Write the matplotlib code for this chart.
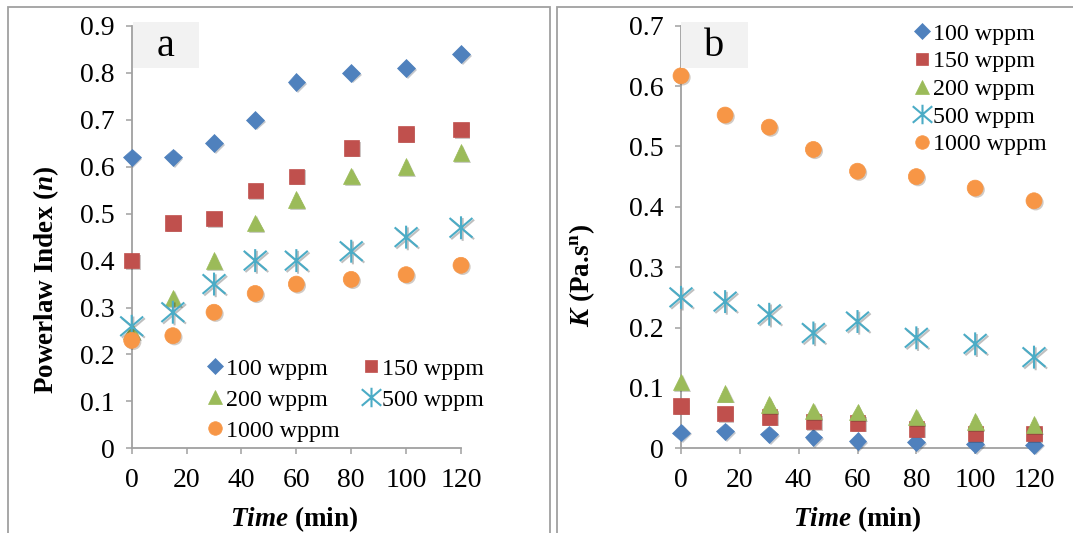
import matplotlib
matplotlib.use("Agg")
import matplotlib.pyplot as plt
import matplotlib.patheffects as pe
from matplotlib.path import Path
from matplotlib.patches import Rectangle

# data
time_min = [0, 15, 30, 45, 60, 80, 100, 120]
series_labels = ["100 wppm", "150 wppm", "200 wppm", "500 wppm", "1000 wppm"]

n_100 = [0.62, 0.62, 0.65, 0.70, 0.78, 0.80, 0.81, 0.84]
n_150 = [0.40, 0.48, 0.49, 0.55, 0.58, 0.64, 0.67, 0.68]
n_200 = [0.25, 0.32, 0.40, 0.48, 0.53, 0.58, 0.60, 0.63]
n_500 = [0.26, 0.29, 0.35, 0.40, 0.40, 0.42, 0.45, 0.47]
n_1000 = [0.23, 0.24, 0.29, 0.33, 0.35, 0.36, 0.37, 0.39]

k_100 = [0.026, 0.028, 0.023, 0.018, 0.012, 0.010, 0.007, 0.006]
k_150 = [0.070, 0.058, 0.052, 0.044, 0.042, 0.032, 0.025, 0.024]
k_200 = [0.110, 0.091, 0.072, 0.062, 0.060, 0.052, 0.044, 0.039]
k_500 = [0.250, 0.243, 0.222, 0.191, 0.210, 0.183, 0.173, 0.151]
k_1000 = [0.617, 0.552, 0.532, 0.495, 0.459, 0.450, 0.431, 0.410]

n_ticks = [0, 0.1, 0.2, 0.3, 0.4, 0.5, 0.6, 0.7, 0.8, 0.9]
k_ticks = [0, 0.1, 0.2, 0.3, 0.4, 0.5, 0.6, 0.7]
time_ticks = [0, 20, 40, 60, 80, 100, 120]

colors = ["#4F81BD", "#C0504D", "#9BBB59", "#4BACC6", "#F79646"]

# excel style star: vertical bar plus an X
star = Path(
    [(0, -1), (0, 1), (-1, -0.85), (1, 0.85), (-1, 0.85), (1, -0.85)],
    [Path.MOVETO, Path.LINETO, Path.MOVETO, Path.LINETO, Path.MOVETO, Path.LINETO],
)
markers = ["D", "s", "^", star, "o"]
msizes = [9, 11, 12, 16.5, 11.5]

plt.rcParams["font.family"] = ["Liberation Serif", "DejaVu Serif"]
plt.rcParams["mathtext.fontset"] = "custom"
plt.rcParams["mathtext.rm"] = "Liberation Serif"
plt.rcParams["mathtext.it"] = "Liberation Serif:italic:bold"
plt.rcParams["mathtext.bf"] = "Liberation Serif:bold"

W, H = 1073, 533
fig = plt.figure(figsize=(W / 100, H / 100), dpi=100)


def px_box(x0, y0, x1, y1):
    return [x0 / W, 1 - y1 / H, (x1 - x0) / W, (y1 - y0) / H]


axis_gray = "#A0A0A0"

# panel frames
fig.patches.append(Rectangle((8 / W, -0.1), (550 - 8) / W, 1 - 7 / H + 0.1,
                             transform=fig.transFigure, fill=False,
                             edgecolor=axis_gray, linewidth=1.3))
fig.patches.append(Rectangle((557 / W, -0.1), 0.6, 1 - 7 / H + 0.1,
                             transform=fig.transFigure, fill=False,
                             edgecolor=axis_gray, linewidth=1.3))

ax1 = fig.add_axes(px_box(131.7, 26, 461, 448.3))
ax2 = fig.add_axes(px_box(681, 25.7, 1034, 448.3))


def draw_series(ax, ys):
    handles = []
    for y, m, s, c, lab in zip(ys, markers, msizes, colors, series_labels):
        if m is star:
            h, = ax.plot(time_min, y, linestyle="none", marker=m, markersize=s,
                         markeredgecolor=c, markeredgewidth=1.5, label=lab,
                         clip_on=False, zorder=3)
            h.set_path_effects([pe.SimpleLineShadow(offset=(1.2, -1.2), alpha=0.25),
                                pe.Normal()])
        else:
            h, = ax.plot(time_min, y, linestyle="none", marker=m, markersize=s,
                         markerfacecolor=c, markeredgecolor=c, markeredgewidth=0.5,
                         label=lab, clip_on=False, zorder=3)
            h.set_path_effects([pe.SimplePatchShadow(offset=(1.2, -1.2), alpha=0.25),
                                pe.Normal()])
        handles.append(h)
    return handles


def style_axes(ax, yticks, ymax):
    ax.set_xlim(0, 120)
    ax.set_ylim(0, ymax)
    ax.set_xticks(time_ticks)
    ax.set_yticks(yticks)
    ax.set_yticklabels([f"{t:g}" for t in yticks])
    for side in ["top", "right"]:
        ax.spines[side].set_visible(False)
    for side in ["left", "bottom"]:
        ax.spines[side].set_color(axis_gray)
        ax.spines[side].set_linewidth(1.3)
    ax.tick_params(axis="both", direction="out", length=4.5, width=1.1,
                   color=axis_gray, labelsize=20, labelcolor="black")
    ax.tick_params(axis="y", pad=8)
    ax.tick_params(axis="x", pad=10)
    ax.patch.set_alpha(0)


h1 = draw_series(ax1, [n_100, n_150, n_200, n_500, n_1000])
h2 = draw_series(ax2, [k_100, k_150, k_200, k_500, k_1000])
style_axes(ax1, n_ticks, 0.9)
style_axes(ax2, k_ticks, 0.7)

# legends
order = [0, 2, 4, 1, 3]
leg1 = ax1.legend([h1[i] for i in order], [series_labels[i] for i in order],
                  ncol=2, loc="upper left",
                  bbox_to_anchor=(207 / W, 1 - 358 / H), bbox_transform=fig.transFigure,
                  frameon=False, fontsize=17.3, handlelength=0.7, handletextpad=0.1,
                  columnspacing=0.95, labelspacing=0.38, borderpad=0, borderaxespad=0,
                  markerscale=0.85)
leg2 = ax2.legend(h2, series_labels, loc="upper left",
                  bbox_to_anchor=(914 / W, 1 - 23 / H), bbox_transform=fig.transFigure,
                  frameon=False, fontsize=17.3, handlelength=0.7, handletextpad=0.1,
                  labelspacing=0.24, borderpad=0, borderaxespad=0, markerscale=0.85)
for leg in (leg1, leg2):
    for h in leg.legend_handles:
        h.set_path_effects([])

# panel tags
for x0, x1, tag in [(133, 199, "a"), (681, 748, "b")]:
    fig.patches.append(Rectangle((x0 / W, 1 - 68 / H), (x1 - x0) / W, 46 / H,
                                 transform=fig.transFigure, facecolor="#F2F2F2",
                                 edgecolor="none", zorder=0))
    fig.text((x0 + x1) / 2 / W, 1 - 46 / H, tag, ha="center", va="center", fontsize=29)

# axis titles
fig.text(46 / W, 1 - 280 / H, r"Powerlaw Index ($n$)", rotation=90, ha="center",
         va="center", fontsize=19.5, fontweight="bold")
fig.text(582 / W, 1 - 276 / H, r"$K$ (Pa.s$^{\mathbf{n}}$)", rotation=90, ha="center",
         va="center", fontsize=19.5, fontweight="bold")
fig.text(294 / W, 1 - 519 / H, r"$Time$ (min)", ha="center", va="center",
         fontsize=19.5, fontweight="bold")
fig.text(857 / W, 1 - 519 / H, r"$Time$ (min)", ha="center", va="center",
         fontsize=19.5, fontweight="bold")

fig.savefig("out.png", dpi=100)
